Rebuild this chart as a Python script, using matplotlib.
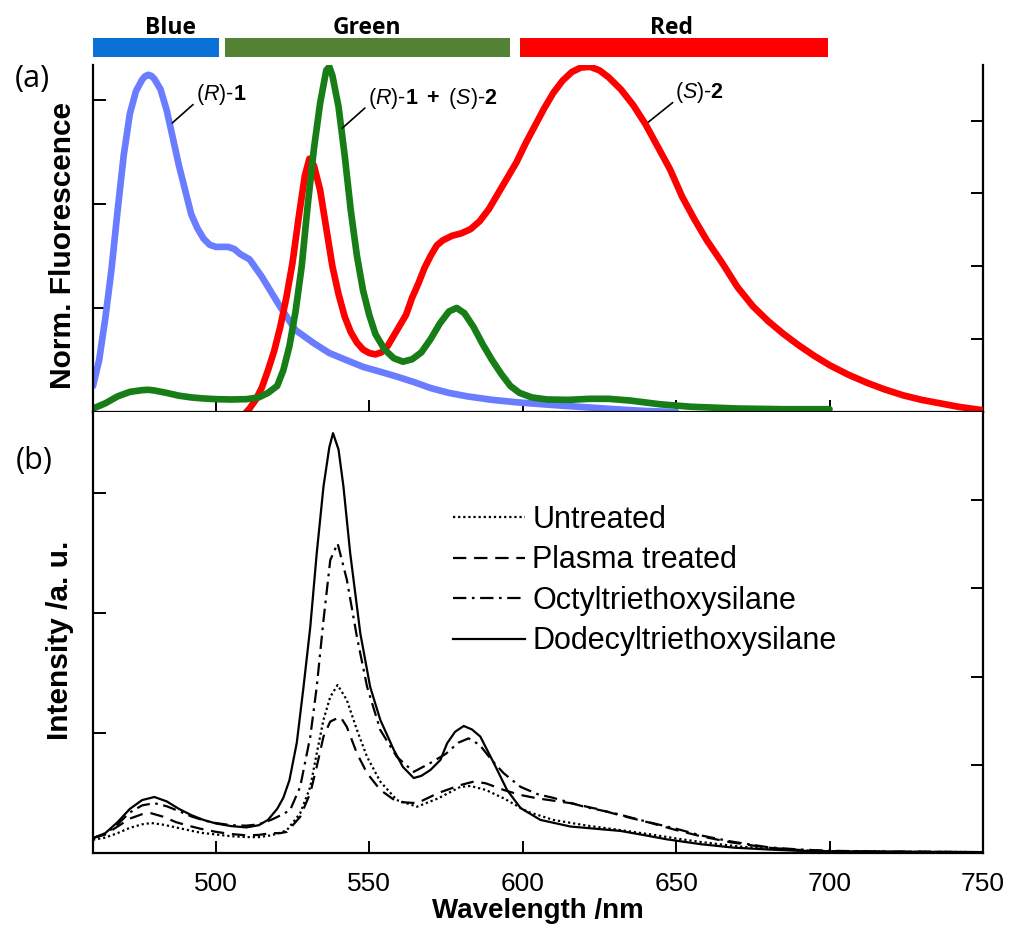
import matplotlib
matplotlib.use("Agg")
import matplotlib.pyplot as plt

plt.rcParams['font.family'] = 'Liberation Sans'
plt.rcParams['mathtext.fontset'] = 'custom'
plt.rcParams['mathtext.rm'] = 'Liberation Sans'
plt.rcParams['mathtext.it'] = 'Liberation Sans:italic'
plt.rcParams['mathtext.bf'] = 'Liberation Sans:bold'

# colour bands above panel (a)
band_names = ['Blue', 'Green', 'Red']
band_start = [460, 503, 599]
band_end = [501, 596, 699.5]
band_colors = ['#0a72d6', '#548235', '#ff0000']

# (a) normalised fluorescence spectra
r1_nm = [460, 462, 464, 466, 468, 470, 472, 474, 476, 477, 478, 479, 480, 482, 484, 486,
         488, 490, 492, 494, 496, 498, 500, 502, 504, 506, 508, 511, 515, 521, 526, 532,
         537, 543, 548, 554, 559, 565, 570, 576, 582, 590, 598, 610, 620, 630, 640, 650]
r1_int = [0.075, 0.15, 0.27, 0.41, 0.58, 0.74, 0.86, 0.925, 0.958, 0.968, 0.972, 0.969,
          0.96, 0.93, 0.87, 0.79, 0.71, 0.64, 0.57, 0.53, 0.50, 0.482, 0.476, 0.476,
          0.476, 0.47, 0.455, 0.44, 0.39, 0.303, 0.236, 0.198, 0.17, 0.148, 0.13, 0.115,
          0.102, 0.085, 0.069, 0.055, 0.045, 0.035, 0.028, 0.02, 0.014, 0.008, 0.003, 0.0]

mix_nm = [460, 464, 468, 472, 476, 478, 480, 484, 488, 492, 496, 500, 505, 510, 514,
          517, 520, 522, 524, 526, 528, 530, 532, 534, 536, 537, 538, 540, 542, 544,
          546, 548, 550, 552, 555, 558, 561, 564, 567, 570, 573, 576, 578.5, 581, 584,
          587, 590, 593, 596, 599, 603, 608, 615, 622, 628, 635, 645, 655, 670, 685, 700]
mix_int = [0.01, 0.025, 0.045, 0.058, 0.063, 0.064, 0.062, 0.055, 0.047, 0.042, 0.039,
           0.037, 0.036, 0.037, 0.042, 0.055, 0.075, 0.12, 0.19, 0.29, 0.42, 0.60, 0.76,
           0.89, 0.985, 0.995, 0.97, 0.88, 0.74, 0.58, 0.45, 0.35, 0.28, 0.225, 0.18,
           0.155, 0.145, 0.152, 0.172, 0.21, 0.255, 0.29, 0.30, 0.285, 0.245, 0.195,
           0.15, 0.11, 0.075, 0.055, 0.042, 0.036, 0.035, 0.038, 0.038, 0.033, 0.022,
           0.015, 0.01, 0.008, 0.008]

s2_nm = [509, 511, 513, 515, 517, 519, 521, 523, 525, 527, 529, 530.5, 532, 534, 536,
         538, 540, 542, 544, 546, 548, 550, 552, 554, 556, 558, 560, 562, 564, 566, 568,
         570, 572, 574, 577, 580, 583, 586, 589, 592, 595, 598, 601, 604, 607, 610, 613,
         616, 619, 622, 625, 628, 632, 636, 640, 644, 648, 652, 656, 660, 665, 670, 675,
         680, 685, 690, 695, 700, 706, 712, 718, 724, 730, 736, 742, 750]
s2_int = [-0.01, 0.01, 0.035, 0.07, 0.12, 0.175, 0.245, 0.33, 0.43, 0.56, 0.68, 0.73,
          0.71, 0.64, 0.53, 0.42, 0.34, 0.275, 0.23, 0.2, 0.18, 0.17, 0.166, 0.172, 0.19,
          0.22, 0.25, 0.28, 0.33, 0.37, 0.415, 0.45, 0.48, 0.495, 0.508, 0.515, 0.527,
          0.55, 0.585, 0.63, 0.675, 0.72, 0.775, 0.825, 0.875, 0.92, 0.955, 0.98, 0.993,
          0.995, 0.985, 0.965, 0.93, 0.885, 0.83, 0.765, 0.7, 0.62, 0.555, 0.495, 0.43,
          0.36, 0.305, 0.262, 0.225, 0.192, 0.162, 0.135, 0.108, 0.085, 0.065, 0.048,
          0.035, 0.025, 0.015, 0.005]

# (b) emission of the film on differently treated substrates
dodecyl_nm = [460, 464, 468, 472, 476, 480, 484, 488, 492, 496, 500, 505, 510, 514, 517,
              520, 522, 524, 526.4, 528.6, 530.8, 532.9, 535.1, 537, 538.2, 540, 541.6,
              543.8, 547.1, 550.3, 553.6, 558, 561, 564.5, 567, 569.9, 573.2, 575.4, 578,
              580.8, 583.5, 586.2, 590.6, 594.9, 599.3, 605.8, 615.6, 631.9, 640, 647,
              658, 669, 680, 690, 700, 720, 750]
dodecyl_int = [0.034, 0.045, 0.07, 0.1, 0.12, 0.127, 0.117, 0.1, 0.086, 0.075, 0.067,
               0.061, 0.058, 0.063, 0.075, 0.1, 0.125, 0.165, 0.25, 0.377, 0.513, 0.68,
               0.831, 0.92, 0.952, 0.915, 0.831, 0.68, 0.498, 0.377, 0.302, 0.234, 0.195,
               0.17, 0.175, 0.188, 0.211, 0.249, 0.275, 0.288, 0.28, 0.264, 0.204, 0.143,
               0.102, 0.075, 0.06, 0.05, 0.04, 0.031, 0.02, 0.012, 0.008, 0.005, 0.004,
               0.003, 0.002]

octyl_nm = [460, 464, 468, 472, 476, 480, 484, 488, 492, 496, 500, 505, 510, 514, 518,
            521, 524.2, 527.5, 530.8, 532.9, 535.1, 537.3, 539.7, 542.7, 546, 549.3,
            553.6, 559, 564.5, 569.9, 575, 579, 582.4, 586, 590, 593.8, 599.3, 605, 610,
            620, 630, 641, 650, 658, 668, 680, 690, 700, 720, 750]
octyl_int = [0.034, 0.043, 0.065, 0.092, 0.108, 0.113, 0.106, 0.095, 0.083, 0.074, 0.068,
             0.063, 0.062, 0.065, 0.075, 0.085, 0.097, 0.15, 0.264, 0.377, 0.528, 0.664,
             0.702, 0.62, 0.49, 0.377, 0.279, 0.218, 0.184, 0.204, 0.225, 0.25, 0.26,
             0.245, 0.21, 0.181, 0.15, 0.133, 0.125, 0.105, 0.09, 0.07, 0.055, 0.04,
             0.026, 0.013, 0.008, 0.005, 0.003, 0.002]

plasma_nm = [460, 464, 468, 472, 476, 479, 483, 487, 491, 495, 500, 505, 510, 514, 518,
             521, 523.2, 527.5, 530.8, 532.9, 535.1, 537.3, 540.6, 542.7, 546, 549.3,
             553.6, 559, 565.6, 572.5, 579.7, 584.1, 588, 593.8, 599, 604.7, 615.6, 624.2,
             632, 641.8, 650, 658, 668, 680, 690, 700, 720, 750]
plasma_int = [0.034, 0.042, 0.06, 0.078, 0.088, 0.09, 0.082, 0.07, 0.062, 0.055, 0.048,
              0.043, 0.04, 0.041, 0.045, 0.045, 0.048, 0.082, 0.136, 0.196, 0.264, 0.298,
              0.309, 0.286, 0.226, 0.181, 0.143, 0.116, 0.113, 0.136, 0.154, 0.162, 0.158,
              0.143, 0.132, 0.124, 0.113, 0.1, 0.085, 0.068, 0.052, 0.038, 0.024, 0.012,
              0.007, 0.004, 0.003, 0.002]

untreated_nm = [460, 464, 468, 472, 476, 479, 483, 487, 491, 495, 500, 505, 510, 514, 518,
                521, 523.2, 527.5, 530.8, 532.9, 535.1, 537.3, 539.7, 542.7, 546, 549.3,
                553.6, 559, 565.6, 572.5, 579.7, 583, 588, 593.8, 601.5, 610, 621, 631.9,
                641.8, 650, 658, 670, 680, 690, 700, 720, 750]
untreated_int = [0.03, 0.035, 0.045, 0.057, 0.065, 0.068, 0.064, 0.058, 0.052, 0.046,
                 0.042, 0.038, 0.036, 0.036, 0.04, 0.046, 0.052, 0.09, 0.15, 0.226, 0.302,
                 0.354, 0.381, 0.347, 0.279, 0.218, 0.162, 0.12, 0.105, 0.124, 0.15, 0.152,
                 0.143, 0.124, 0.094, 0.075, 0.062, 0.052, 0.042, 0.033, 0.025, 0.015,
                 0.01, 0.006, 0.004, 0.003, 0.002]

fig = plt.figure(figsize=(10.09, 9.30), dpi=100)
left, width = 0.0922, 0.882
ax_a = fig.add_axes([left, 0.557, width, 0.373])
ax_b = fig.add_axes([left, 0.0828, width, 0.4742])
ax_band = fig.add_axes([left, 1 - 57 / 930, width, 19 / 930])

# colour bands
ax_band.barh(0.5, [e - s for s, e in zip(band_start, band_end)], left=band_start,
             height=1.0, color=band_colors)
label_x = [485.4, 549.3, 648.6]
for name, lx in zip(band_names, label_x):
    ax_band.text(lx, 1.55, name, ha='center', va='center', fontsize=16.5,
                 fontweight='bold', family='Open Sans')
ax_band.set_xlim(460, 750)
ax_band.set_ylim(0, 1)
ax_band.axis('off')

# panel (a)
lw_a = 4.8
ax_a.plot(r1_nm, r1_int, color='#6a7cff', lw=lw_a, solid_capstyle='round')
ax_a.plot(s2_nm, s2_int, color='#ff0000', lw=lw_a, solid_capstyle='round')
ax_a.plot(mix_nm, mix_int, color='#177d17', lw=lw_a, solid_capstyle='round')
ax_a.set_xlim(460, 750)
ax_a.set_ylim(0, 1)
ax_a.set_xticks([500, 550, 600, 650, 700])
ax_a.set_xticklabels([])
ax_a.set_yticks([0.3, 0.6, 0.9])
ax_a.set_yticklabels([])
ax_a.spines['top'].set_visible(False)
ax_a.spines['right'].set_visible(False)
sec_a = ax_a.secondary_yaxis('right')
sec_a.set_yticks([0.21, 0.42, 0.63, 0.84])
sec_a.set_yticklabels([])

leader = dict(arrowstyle='-', color='black', lw=1.2, shrinkA=0, shrinkB=0,
              relpos=(0, 0.2))
ann_kw = dict(fontsize=15.5, ha='left', va='center', arrowprops=leader)
ax_a.annotate(r'($\mathit{R}$)-$\mathbf{1}$', xy=(485.8, 0.833),
              xytext=(493.5, 0.915), **ann_kw)
ax_a.annotate(r'($\mathit{R}$)-$\mathbf{1\ +}$ ($\mathit{S}$)-$\mathbf{2}$',
              xy=(541.2, 0.818), xytext=(549.5, 0.905), **ann_kw)
ax_a.annotate(r'($\mathit{S}$)-$\mathbf{2}$', xy=(641, 0.836),
              xytext=(649.8, 0.92), **ann_kw)
ax_a.set_ylabel('Norm. Fluorescence', fontsize=21.5, fontweight='bold')
ax_a.yaxis.set_label_coords(-0.0337, 0.481)
ax_a.yaxis.label.set_verticalalignment('center')

# panel (b)
lw_b = 1.6
ax_b.plot(untreated_nm, untreated_int, color='black', lw=lw_b, dashes=(1, 1.3),
          label='Untreated')
ax_b.plot(plasma_nm, plasma_int, color='black', lw=lw_b, dashes=(6, 3.5),
          label='Plasma treated')
ax_b.plot(octyl_nm, octyl_int, color='black', lw=lw_b, dashes=(6, 2.5, 1.2, 2.5),
          label='Octyltriethoxysilane')
ax_b.plot(dodecyl_nm, dodecyl_int, color='black', lw=lw_b,
          label='Dodecyltriethoxysilane')
ax_b.set_xlim(460, 750)
ax_b.set_ylim(0, 1)
ax_b.set_xticks([500, 550, 600, 650, 700, 750])
ax_b.set_yticks([0.272, 0.544, 0.816])
ax_b.set_yticklabels([])
ax_b.spines['top'].set_visible(False)
ax_b.spines['right'].set_visible(False)
sec_b = ax_b.secondary_yaxis('right')
sec_b.set_yticks([0.2, 0.4, 0.6, 0.8])
sec_b.set_yticklabels([])
ax_b.set_xlabel('Wavelength /nm', fontsize=20, fontweight='bold', labelpad=1)
ax_b.set_ylabel('Intensity /a. u.', fontsize=21.5, fontweight='bold')
ax_b.yaxis.set_label_coords(-0.037, 0.483)
ax_b.yaxis.label.set_verticalalignment('center')
ax_b.legend(loc='upper left', bbox_to_anchor=(0.405, 0.789), frameon=False,
            fontsize=22, handlelength=2.35, handletextpad=0.23, labelspacing=0.34,
            borderpad=0, borderaxespad=0)

for ax in (ax_a, ax_b, sec_a, sec_b):
    for sp in ax.spines.values():
        sp.set_linewidth(1.6)
    ax.tick_params(direction='in', length=9, width=1.4, labelsize=19, pad=14)

fig.text(32 / 1009, 1 - 79 / 930, '(a)', ha='center', va='center', fontsize=22,
         family='Open Sans')
fig.text(34 / 1009, 1 - 461 / 930, '(b)', ha='center', va='center', fontsize=22,
         family='Open Sans')

fig.savefig('out.png', dpi=100)
